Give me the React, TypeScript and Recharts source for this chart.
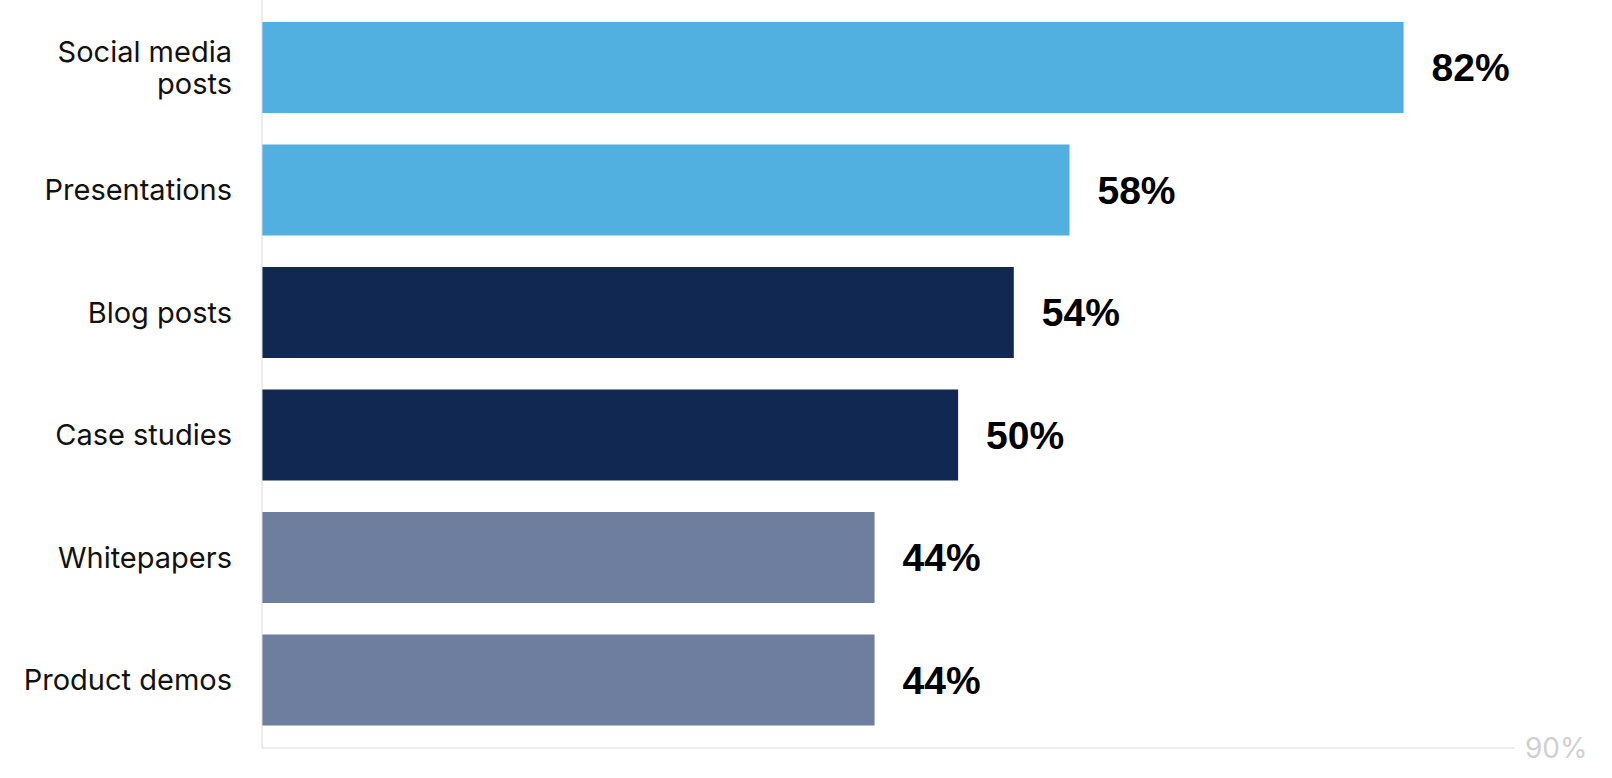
import React from "react";
import { BarChart, Bar, XAxis, YAxis, Cell, LabelList } from "recharts";

const categories = [
  "Social media posts",
  "Presentations",
  "Blog posts",
  "Case studies",
  "Whitepapers",
  "Product demos",
];
const shares = [82, 58, 54, 50, 44, 44];
const xTicks = [90];

const BAR_COLORS = ["#51b0e0", "#51b0e0", "#112852", "#112852", "#6e7e9e", "#6e7e9e"];
const FONT = "Inter, 'Noto Sans', sans-serif";
const VALUE_FONT = "'Liberation Sans', Arial, sans-serif";
const TICK_SIZE = 29;
const LINE_H = 32;
const MAX_LABEL_W = 222;

const data = categories.map((name, i) => ({ name, value: shares[i] }));

let measureCtx: CanvasRenderingContext2D | null = null;
function textWidth(s: string) {
  if (!measureCtx) {
    measureCtx = document.createElement("canvas").getContext("2d");
  }
  if (!measureCtx) return s.length * TICK_SIZE * 0.55;
  measureCtx.font = `${TICK_SIZE}px Inter`;
  return measureCtx.measureText(s).width;
}

function wrapLabel(label: string) {
  const lines: string[] = [];
  let cur = "";
  for (const w of label.split(" ")) {
    const next = cur ? `${cur} ${w}` : w;
    if (cur && textWidth(next) > MAX_LABEL_W) {
      lines.push(cur);
      cur = w;
    } else {
      cur = next;
    }
  }
  if (cur) lines.push(cur);
  return lines;
}

function CategoryTick(props: any) {
  const { x, y, payload } = props;
  const lines = wrapLabel(String(payload.value));
  const firstDy = (-(lines.length - 1) / 2) * LINE_H + TICK_SIZE * 0.355;
  return (
    <text x={x} y={y} textAnchor="end" fontSize={TICK_SIZE} fontFamily={FONT} fill="#111">
      {lines.map((l, i) => (
        <tspan key={i} x={x} dy={i === 0 ? firstDy : LINE_H}>
          {l}
        </tspan>
      ))}
    </text>
  );
}

function MaxTick(props: any) {
  const { x, y, payload } = props;
  return (
    <text
      x={x + 10}
      y={y}
      dominantBaseline="central"
      textAnchor="start"
      fontSize={28}
      fontFamily={FONT}
      fill="#d0d0d0"
    >
      {payload.value}%
    </text>
  );
}

export default function App() {
  return (
    <div style={{ position: "absolute", top: 0, left: 0, background: "#fff" }}>
      <BarChart
        width={1612}
        height={778}
        data={data}
        layout="vertical"
        margin={{ top: 0, right: 97, bottom: 0, left: 0 }}
      >
        <XAxis
          type="number"
          domain={[0, 90]}
          ticks={xTicks}
          axisLine={{ stroke: "#d9d9d9" }}
          tickLine={false}
          tickSize={0}
          tickMargin={0}
          height={30}
          tick={<MaxTick />}
        />
        <YAxis
          type="category"
          dataKey="name"
          width={262}
          axisLine={{ stroke: "#d9d9d9" }}
          tickLine={false}
          tickSize={0}
          tickMargin={30}
          padding={{ top: 6, bottom: 7 }}
          tick={<CategoryTick />}
        />
        <Bar dataKey="value" barSize={91} isAnimationActive={false}>
          {data.map((d, i) => (
            <Cell key={d.name} fill={BAR_COLORS[i]} />
          ))}
          <LabelList
            dataKey="value"
            position="right"
            offset={28}
            formatter={(v: any) => `${v}%`}
            style={{ fontSize: 39, fontWeight: 700, fill: "#000", fontFamily: VALUE_FONT }}
          />
        </Bar>
      </BarChart>
    </div>
  );
}
